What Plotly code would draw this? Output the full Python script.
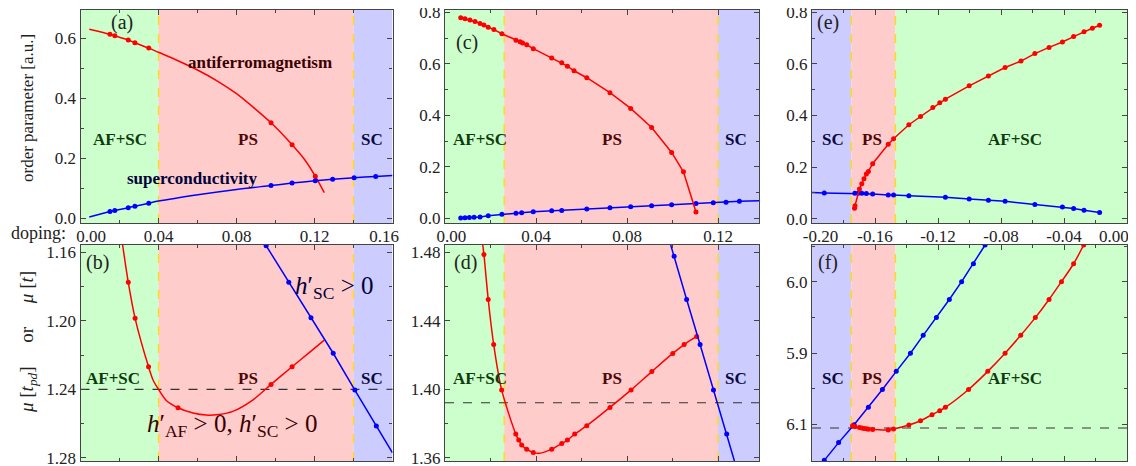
import plotly.graph_objects as go

W, H = 1160, 466   # figure size (window is 1136x466; the figure sits 8 px in from the page corner)
OFF = 8

# ------------------------------------------------------------------ data
# phase boundaries (doping)
ab_bounds = [0.0, 0.04, 0.14, 0.16]
cd_bounds = [0.0, 0.026, 0.12, 0.138]
ef_bounds = [-0.20, -0.175, -0.147, 0.0]

# (a) order parameters
a_af_line_x = [0.0045, 0.0151, 0.0176, 0.0245, 0.0279, 0.035, 0.040, 0.050, 0.060, 0.070, 0.080, 0.090, 0.0977,
               0.1085, 0.115, 0.1204, 0.125]
a_af_line_y = [0.630, 0.613, 0.608, 0.594, 0.585, 0.567, 0.553, 0.525, 0.494, 0.458, 0.415, 0.362, 0.318,
               0.245, 0.195, 0.140, 0.085]
a_af_x = [0.0151, 0.0176, 0.0245, 0.0279, 0.035, 0.0977, 0.1085, 0.1204]
a_af_y = [0.613, 0.608, 0.594, 0.585, 0.567, 0.318, 0.245, 0.140]
a_sc_line_x = [0.0045, 0.0151, 0.0176, 0.0245, 0.0279, 0.035, 0.040, 0.0611, 0.080, 0.0977, 0.1085, 0.1204, 0.1293,
               0.1403, 0.1514, 0.16]
a_sc_line_y = [0.004, 0.022, 0.026, 0.035, 0.040, 0.050, 0.057, 0.079, 0.096, 0.109, 0.117, 0.125, 0.130,
               0.135, 0.139, 0.142]
a_sc_x = [0.0151, 0.0176, 0.0245, 0.0279, 0.035, 0.0977, 0.1085, 0.1204, 0.1293, 0.1403, 0.1514]
a_sc_y = [0.022, 0.026, 0.035, 0.040, 0.050, 0.109, 0.117, 0.125, 0.130, 0.135, 0.139]

# (b) chemical potential
b_af_line_x = [0.0216, 0.0245, 0.028, 0.0349, 0.0372, 0.040, 0.044, 0.050, 0.0577, 0.0645, 0.071, 0.0781, 0.0883,
               0.0977, 0.1085, 0.1173, 0.125]
b_af_line_y = [1.1557, 1.1775, 1.1985, 1.2268, 1.2345, 1.2400, 1.2465, 1.2507, 1.2538, 1.2550, 1.2546, 1.2528,
               1.2462, 1.2371, 1.2268, 1.2185, 1.2112]
b_af_x = [0.0245, 0.028, 0.0349, 0.050, 0.0977, 0.1085]
b_af_y = [1.1775, 1.1985, 1.2268, 1.2507, 1.2371, 1.2268]
b_sc_line_x = [0.0952, 0.1068, 0.1182, 0.1296, 0.1407, 0.1517, 0.16]
b_sc_line_y = [1.1561, 1.1775, 1.1982, 1.2189, 1.2404, 1.2614, 1.277]
b_sc_x = [0.0952, 0.1068, 0.1182, 0.1296, 0.1407, 0.1517]
b_sc_y = [1.1561, 1.1775, 1.1982, 1.2189, 1.2404, 1.2614]
b_mu0 = 1.24

# (c) order parameters
c_af_x = [0.0069, 0.0088, 0.011, 0.0132, 0.0154, 0.0171, 0.019, 0.0215, 0.025, 0.0312, 0.033, 0.0341, 0.0359,
          0.0388, 0.0469, 0.0513, 0.0538, 0.0567, 0.0623, 0.0725, 0.0816, 0.0908, 0.0996, 0.1048, 0.1103]
c_af_y = [0.779, 0.775, 0.770, 0.764, 0.757, 0.751, 0.742, 0.733, 0.717, 0.692, 0.686, 0.681, 0.674,
          0.659, 0.623, 0.604, 0.591, 0.573, 0.546, 0.488, 0.427, 0.353, 0.256, 0.181, 0.025]
c_sc_x = [0.0069, 0.0088, 0.0107, 0.0128, 0.0154, 0.019, 0.025, 0.0312, 0.0337, 0.0388, 0.0469, 0.0513, 0.0623,
          0.0725, 0.0816, 0.0908, 0.0996, 0.1103, 0.1179, 0.1235, 0.1294]
c_sc_y = [0.001, 0.002, 0.003, 0.004, 0.005, 0.010, 0.016, 0.020, 0.022, 0.026, 0.030, 0.031, 0.036,
          0.041, 0.045, 0.049, 0.053, 0.058, 0.061, 0.063, 0.066]
c_sc_end_x = [0.1294, 0.138]
c_sc_end_y = [0.066, 0.068]

# (d) chemical potential
d_af_line_x = [0.0166, 0.0171, 0.0190, 0.0214, 0.0249, 0.0311, 0.0324, 0.0337, 0.0359, 0.0388, 0.042, 0.0469, 0.0513,
               0.0538, 0.0570, 0.0623, 0.0725, 0.0818, 0.0909, 0.1001, 0.1051, 0.1106]
d_af_line_y = [1.4843, 1.4788, 1.4525, 1.4262, 1.3997, 1.3739, 1.3704, 1.3676, 1.3651, 1.3631, 1.3628, 1.3651, 1.3684,
               1.3704, 1.3739, 1.3788, 1.3895, 1.3997, 1.4104, 1.4210, 1.4262, 1.4309]
d_af_x = [0.0171, 0.0190, 0.0214, 0.0249, 0.0311, 0.0324, 0.0337, 0.0359, 0.0388, 0.0469, 0.0513, 0.0538, 0.0570,
          0.0623, 0.0725, 0.0818, 0.0909, 0.1001, 0.1051, 0.1106]
d_af_y = [1.4788, 1.4525, 1.4262, 1.3997, 1.3739, 1.3704, 1.3676, 1.3651, 1.3631, 1.3651, 1.3684, 1.3704, 1.3739,
          1.3788, 1.3895, 1.3997, 1.4104, 1.4210, 1.4262, 1.4309]
d_sc_line_x = [0.0992, 0.1007, 0.1062, 0.1121, 0.1180, 0.1238, 0.1272]
d_sc_line_y = [1.4843, 1.4778, 1.4525, 1.4262, 1.3997, 1.3739, 1.3582]
d_sc_x = [0.1007, 0.1062, 0.1121, 0.1180, 0.1238]
d_sc_y = [1.4778, 1.4525, 1.4262, 1.3997, 1.3739]
d_mu0 = 1.3922

# (e) order parameters
e_af_x = [-0.1730, -0.1727, -0.1699, -0.1684, -0.1670, -0.1655, -0.1642, -0.1615, -0.1516, -0.1482, -0.1385,
          -0.1311, -0.1233, -0.1189, -0.1153, -0.1002, -0.0880, -0.0774, -0.0673, -0.0585, -0.0495, -0.0410,
          -0.0339, -0.0273, -0.0220, -0.0174]
e_af_y = [0.040, 0.050, 0.115, 0.135, 0.155, 0.173, 0.183, 0.213, 0.288, 0.310, 0.364,
          0.396, 0.431, 0.449, 0.463, 0.515, 0.553, 0.586, 0.611, 0.640, 0.664, 0.685,
          0.706, 0.725, 0.738, 0.750]
e_sc_x = [-0.1922, -0.1728, -0.1707, -0.1684, -0.1655, -0.1615, -0.1516, -0.1482, -0.1385, -0.1153, -0.1002,
          -0.0880, -0.0774, -0.0585, -0.0410, -0.0339, -0.0273, -0.0174]
e_sc_y = [0.099, 0.098, 0.098, 0.098, 0.097, 0.095, 0.092, 0.092, 0.089, 0.083, 0.076,
          0.071, 0.067, 0.055, 0.045, 0.039, 0.032, 0.024]
e_sc_start_x = [-0.20, -0.1922]
e_sc_start_y = [0.101, 0.099]

# (f) chemical potential
f_sc_x = [-0.1922, -0.1831, -0.1733, -0.1642, -0.1553, -0.1465, -0.1375, -0.1294, -0.1210, -0.1128, -0.1050,
          -0.0975, -0.0901]
f_sc_y = [5.7496, 5.7745, 5.7996, 5.8240, 5.8491, 5.8745, 5.9000, 5.9250, 5.9499, 5.9754, 6.0004,
          6.0255, 6.0518]
f_af_x = [-0.1743, -0.1728, -0.1699, -0.1684, -0.1670, -0.1655, -0.1642, -0.1615, -0.1516, -0.1482, -0.1385,
          -0.1311, -0.1238, -0.1189, -0.1153, -0.1006, -0.0884, -0.0774, -0.0675, -0.0582, -0.0495, -0.0416,
          -0.0339, -0.0275]
f_af_y = [5.7982, 5.7972, 5.7958, 5.7950, 5.7944, 5.7938, 5.7934, 5.7930, 5.7922, 5.7935, 5.7991,
          5.8052, 5.8137, 5.8193, 5.8240, 5.8491, 5.8745, 5.9000, 5.9250, 5.9499, 5.9754, 6.0004,
          6.0255, 6.0518]
f_mu0 = 5.795

# tick labels
ab_xticks = [0.00, 0.04, 0.08, 0.12, 0.16]
ab_xtext = ["0.00", "0.04", "0.08", "0.12", "0.16"]
cd_xticks = [0.00, 0.04, 0.08, 0.12]
cd_xtext = ["0.00", "0.04", "0.08", "0.12"]
ef_xticks = [-0.20, -0.16, -0.12, -0.08, -0.04, 0.00]
ef_xtext = ["-0.20", "-0.16", "-0.12", "-0.08", "-0.04", "0.00"]
a_yticks = [0.0, 0.2, 0.4, 0.6]
a_ytext = ["0.0", "0.2", "0.4", "0.6"]
ce_yticks = [0.0, 0.2, 0.4, 0.6, 0.8]
ce_ytext = ["0.0", "0.2", "0.4", "0.6", "0.8"]
b_yticks = [1.16, 1.20, 1.24, 1.28]
b_ytext = ["1.16", "1.20", "1.24", "1.28"]
d_yticks = [1.36, 1.40, 1.44, 1.48]
d_ytext = ["1.36", "1.40", "1.44", "1.48"]
f_yticks = [6.0, 5.9, 5.8]
f_ytext = ["6.0", "5.9", "6.1"]

# ------------------------------------------------------------------ style
RED, BLUE = "#ff0000", "#0000ff"
GREEN_BG, PINK_BG, BLUE_BG = "#ccffcc", "#ffcccc", "#ccccff"
SERIF = "Liberation Serif, Times New Roman, Times, serif"
FRAME = "#444444"
C_GREEN, C_RED, C_NAVY = "#0d3b0d", "#4d0808", "#0a0a40"
NB = "\u00a0"


def fx(p):
    return (p - OFF) / W


def fy(p):
    return 1 - (p - OFF) / H


def pad(labels, left=0, right=0):
    out = list(labels)
    out[0] = NB * left + out[0]
    out[-1] = out[-1] + NB * right
    return out


cols = {"ab": (80.5, 392.5), "cd": (445, 759), "ef": (812, 1127)}
top_row = (10, 223)
bot_row = (245, 461)

# the rightmost label of (e) sits at the window edge: it is written as a text item next to its tick
ef_xtext_axis = pad(ef_xtext[:-1] + [""], 4, 0)
ef_last_label = ef_xtext[-1]

fig = go.Figure()

panels = [
    # name, axis id, col, row, xrange, yrange (bottom, top), xticks, xtext, yticks, ytext, y minor step, x labels
    ("a", 1, "ab", top_row, [0.0, 0.16], [-0.016, 0.694], ab_xticks, pad(ab_xtext, 5, 4), a_yticks, a_ytext, 0.1, True),
    ("b", 2, "ab", bot_row, [0.0, 0.16], [1.2818, 1.1557], ab_xticks, ab_xtext, b_yticks, b_ytext, 0.02, False),
    ("c", 3, "cd", top_row, [0.0, 0.138], [-0.018, 0.809], cd_xticks, pad(cd_xtext, 3, 0), ce_yticks, ce_ytext, 0.1, True),
    ("d", 4, "cd", bot_row, [0.0, 0.138], [1.3582, 1.4843], cd_xticks, cd_xtext, d_yticks, d_ytext, 0.02, False),
    ("e", 5, "ef", top_row, [-0.20, 0.0], [-0.017, 0.809], ef_xticks, ef_xtext_axis, ce_yticks, ce_ytext, 0.1, True),
    ("f", 6, "ef", bot_row, [-0.20, 0.0], [5.7487, 6.0518], ef_xticks, ef_xtext, f_yticks, f_ytext, 0.05, False),
]

tickfont = dict(family=SERIF, size=17, color="#222222")
layout_axes = {}
for name, i, col, row, xr, yr, xt, xtt, yt, ytt, ymin, xlab in panels:
    sfx = "" if i == 1 else str(i)
    c0, c1 = cols[col]
    r0, r1 = row
    common = dict(showline=True, linecolor=FRAME, linewidth=1.3, mirror="ticks", ticks="inside",
                  ticklen=5, tickwidth=1, tickcolor=FRAME, showgrid=False, zeroline=False,
                  tickfont=tickfont, fixedrange=True, automargin=False, ticklabeloverflow="allow")
    layout_axes["xaxis" + sfx] = dict(common, domain=[fx(c0), fx(c1)], anchor="y" + sfx, range=xr,
                                      autorange=False, tickmode="array", tickvals=xt, ticktext=xtt,
                                      showticklabels=xlab, ticklabelstandoff=-3,
                                      minor=dict(ticks="inside", ticklen=3, tickcolor=FRAME, dtick=0.02,
                                                 tick0=0))
    # range given as [bottom, top]; for panel (b) this makes the axis run downward
    layout_axes["yaxis" + sfx] = dict(common, domain=[fy(r1), fy(r0)], anchor="x" + sfx, range=yr,
                                      autorange=False, tickmode="array", tickvals=yt, ticktext=ytt,
                                      minor=dict(ticks="inside", ticklen=3, tickcolor=FRAME, dtick=ymin,
                                                 tick0=0))

fig.update_layout(**layout_axes)

# background phase regions + boundaries
shapes = []
region_sets = {
    "ab": (ab_bounds, [GREEN_BG, PINK_BG, BLUE_BG]),
    "cd": (cd_bounds, [GREEN_BG, PINK_BG, BLUE_BG]),
    "ef": (ef_bounds, [BLUE_BG, PINK_BG, GREEN_BG]),
}
for name, i, col, row, *_ in panels:
    sfx = "" if i == 1 else str(i)
    bounds, colors = region_sets[col]
    for k in range(3):
        shapes.append(dict(type="rect", xref="x" + sfx, yref="y" + sfx + " domain",
                           x0=bounds[k], x1=bounds[k + 1], y0=0, y1=1, fillcolor=colors[k],
                           line=dict(width=0), layer="below"))
    for bx in bounds[1:3]:
        shapes.append(dict(type="line", xref="x" + sfx, yref="y" + sfx + " domain",
                           x0=bx, x1=bx, y0=0, y1=1, line=dict(color="#ffdd00", width=1.3, dash="dash"),
                           layer="below"))

for sfx, mu in (("2", b_mu0), ("4", d_mu0), ("6", f_mu0)):
    shapes.append(dict(type="line", xref="x" + sfx + " domain", yref="y" + sfx,
                       x0=0, x1=1, y0=mu, y1=mu, line=dict(color="#333333", width=1.2, dash="dash"),
                       layer="below"))
fig.update_layout(shapes=shapes)


def line(x, y, color, ax, spline=False):
    fig.add_trace(go.Scatter(x=x, y=y, mode="lines", xaxis="x" + ax, yaxis="y" + ax,
                             line=dict(color=color, width=1.5, shape="spline" if spline else "linear",
                                       smoothing=0.8),
                             hoverinfo="skip", showlegend=False))


def dots(x, y, color, ax):
    fig.add_trace(go.Scatter(x=x, y=y, mode="markers", xaxis="x" + ax, yaxis="y" + ax,
                             marker=dict(color=color, size=5), showlegend=False))


# (a)
line(a_af_line_x, a_af_line_y, RED, "", True)
dots(a_af_x, a_af_y, RED, "")
line(a_sc_line_x, a_sc_line_y, BLUE, "", True)
dots(a_sc_x, a_sc_y, BLUE, "")
# (b)
line(b_af_line_x, b_af_line_y, RED, "2", True)
dots(b_af_x, b_af_y, RED, "2")
line(b_sc_line_x, b_sc_line_y, BLUE, "2")
dots(b_sc_x, b_sc_y, BLUE, "2")
# (c)
line(c_sc_x, c_sc_y, BLUE, "3")
line(c_sc_end_x, c_sc_end_y, BLUE, "3")
dots(c_sc_x, c_sc_y, BLUE, "3")
line(c_af_x, c_af_y, RED, "3")
dots(c_af_x, c_af_y, RED, "3")
# (d)
line(d_af_line_x, d_af_line_y, RED, "4", True)
dots(d_af_x, d_af_y, RED, "4")
line(d_sc_line_x, d_sc_line_y, BLUE, "4")
dots(d_sc_x, d_sc_y, BLUE, "4")
# (e)
line(e_sc_start_x, e_sc_start_y, BLUE, "5")
line(e_sc_x, e_sc_y, BLUE, "5")
dots(e_sc_x, e_sc_y, BLUE, "5")
line(e_af_x, e_af_y, RED, "5")
dots(e_af_x, e_af_y, RED, "5")
# (f)
line(f_sc_x, f_sc_y, BLUE, "6")
dots(f_sc_x, f_sc_y, BLUE, "6")
line(f_af_x, f_af_y, RED, "6", True)
dots(f_af_x, f_af_y, RED, "6")

# ------------------------------------------------------------------ text
ann = []


def txt(s, xp, yp, size=17, color="#000000", bold=False, angle=0):
    ann.append(dict(text=("<b>%s</b>" % s) if bold else s, x=fx(xp), y=fy(yp), xref="paper", yref="paper",
                    xanchor="center", yanchor="middle", showarrow=False, textangle=angle,
                    font=dict(family=SERIF, size=size, color=color)))


# last tick label of (e), placed just left of the frame corner
txt(ef_last_label, 1114, 236, size=17, color="#222222")

for lab, xp, yp in (("(a)", 122, 22), ("(c)", 467, 43), ("(e)", 828, 23),
                    ("(b)", 97, 262), ("(d)", 465, 262), ("(f)", 828, 262)):
    txt(lab, xp, yp, size=20, color="#222222")

for yp in (140, 378):
    txt("AF+SC", 120 if yp == 140 else 113, yp, color=C_GREEN, bold=True)
    txt("PS", 248, yp, color=C_RED, bold=True)
    txt("SC", 372, yp, color=C_NAVY, bold=True)
    txt("AF+SC", 480, yp, color=C_GREEN, bold=True)
    txt("PS", 612, yp, color=C_RED, bold=True)
    txt("SC", 736, yp, color=C_NAVY, bold=True)
    txt("SC", 833, yp, color=C_NAVY, bold=True)
    txt("PS", 872, yp, color=C_RED, bold=True)
    txt("AF+SC", 1015, yp, color=C_GREEN, bold=True)

txt("antiferromagnetism", 260, 62, color="#3a0000", bold=True)
txt("superconductivity", 192, 178, color="#00003a", bold=True)
txt("<i>h</i>′<sub>SC</sub> &gt; 0", 334, 287, size=25, color="#00003a")
txt("<i>h</i>′<sub>AF</sub> &gt; 0, <i>h</i>′<sub>SC</sub> &gt; 0", 232, 425, size=25, color="#3a0000")

txt("doping:", 38, 233, size=18, color="#222222")
txt("order parameter [a.u.]", 27, 108, size=17, color="#222222", angle=-90)
gap = NB * 5
txt("<i>μ</i> [<i>t<sub>pd</sub></i>]" + gap + "or" + gap + "<i>μ</i> [<i>t</i>]", 28, 342, size=19,
    color="#222222", angle=-90)

fig.update_layout(annotations=ann, width=W, height=H, margin=dict(l=0, r=0, t=0, b=0, autoexpand=False),
                  plot_bgcolor="white", paper_bgcolor="white", showlegend=False)

fig.write_html("out.html")
